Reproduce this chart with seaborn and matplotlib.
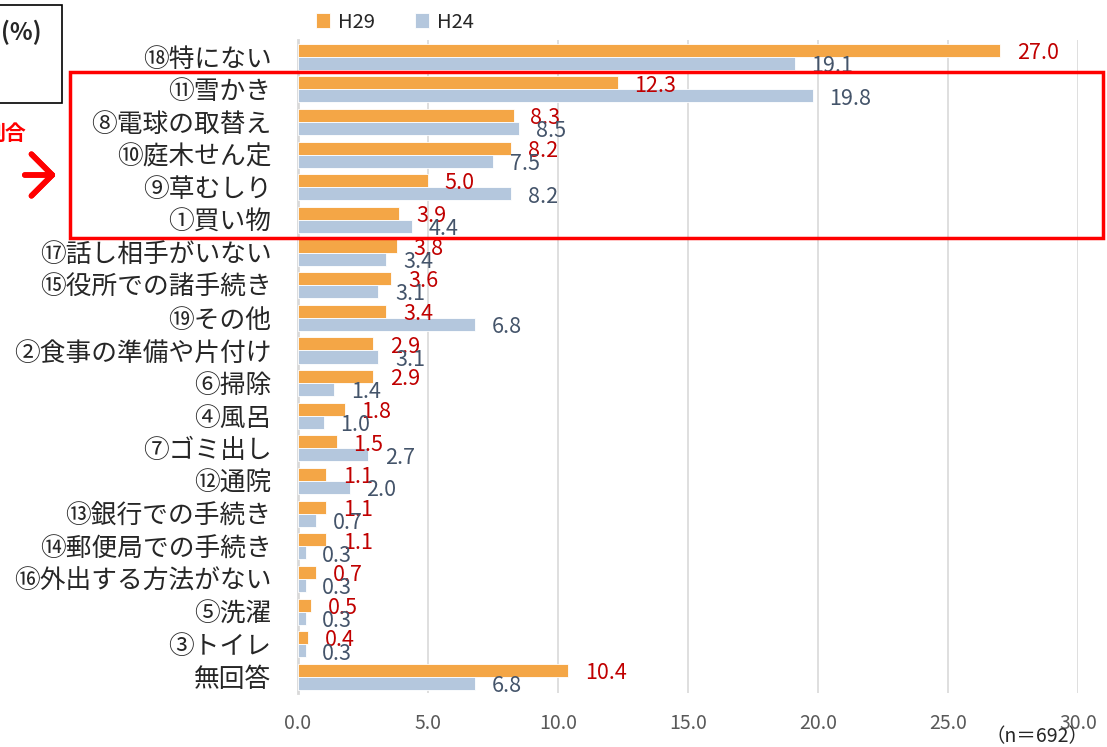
import pandas as pd
import matplotlib.pyplot as plt
import seaborn as sns
from matplotlib.patches import Rectangle

categories = ['⑱特にない', '⑪雪かき', '⑧電球の取替え', '⑩庭木せん定', '⑨草むしり', '①買い物',
              '⑰話し相手がいない', '⑮役所での諸手続き', '⑲その他', '②食事の準備や片付け', '⑥掃除',
              '④風呂', '⑦ゴミ出し', '⑫通院', '⑬銀行での手続き', '⑭郵便局での手続き',
              '⑯外出する方法がない', '⑤洗濯', '③トイレ', '無回答']
h29 = [27.0, 12.3, 8.3, 8.2, 5.0, 3.9, 3.8, 3.6, 3.4, 2.9, 2.9, 1.8, 1.5, 1.1, 1.1, 1.1, 0.7, 0.5, 0.4, 10.4]
h24 = [19.1, 19.8, 8.5, 7.5, 8.2, 4.4, 3.4, 3.1, 6.8, 3.1, 1.4, 1.0, 2.7, 2.0, 0.7, 0.3, 0.3, 0.3, 0.3, 6.8]
series = ['H29', 'H24']
x_ticks = [0, 5, 10, 15, 20, 25, 30]

df = pd.DataFrame({
    'item': categories * 2,
    'year': ['H29'] * len(categories) + ['H24'] * len(categories),
    'value': h29 + h24,
})

sns.set_style('white')
plt.rcParams['font.family'] = ['Noto Sans CJK JP', 'DejaVu Sans']

fig = plt.figure(figsize=(11.07, 7.47), dpi=100)
ax = fig.add_axes([0.269, 0.072, 0.705, 0.874])

sns.barplot(data=df, y='item', x='value', hue='year', hue_order=series,
            palette={'H29': '#F4A646', 'H24': '#B4C7DD'}, saturation=1, orient='h',
            width=0.8, edgecolor='white', linewidth=0.6, ax=ax, zorder=3)

label_colors = ['#C00000', '#44546A']
for cont, col in zip(ax.containers, label_colors):
    for t in ax.bar_label(cont, fmt='%.1f', padding=12, color=col, fontsize=15.5):
        t.set_position((12, -2))

ax.set_xlim(0, 30)
ax.set_xticks(x_ticks)
ax.set_xticklabels([f'{t:.1f}' for t in x_ticks], color='#595959', fontsize=14)
ax.tick_params(axis='x', length=0, pad=14)
ax.tick_params(axis='y', length=0, pad=19, labelsize=18.5)
ax.set_xlabel('')
ax.set_ylabel('')
ax.grid(axis='x', color='#D9D9D9', linewidth=1.2, zorder=0)
for s in ['top', 'right', 'bottom']:
    ax.spines[s].set_visible(False)
ax.spines['left'].set_color('#D9D9D9')
ax.spines['left'].set_linewidth(2)

ax.legend(loc='center', bbox_to_anchor=(395 / 1107, 1 - 22 / 747), bbox_transform=fig.transFigure,
          ncol=2, frameon=False, fontsize=14.5, handlelength=0.7, handleheight=0.7,
          handletextpad=0.4, columnspacing=2.0)

# callouts around the chart
fig.patches.append(Rectangle((-10 / 1107, 1 - 103 / 747), 72 / 1107, 98 / 747, transform=fig.transFigure,
                             fill=False, edgecolor='black', linewidth=1.2))
fig.text(21 / 1107, 1 - 32 / 747, '(%)', fontsize=17, fontweight='bold', ha='center', va='center')
fig.text(26 / 1107, 1 - 133 / 747, '割合', fontsize=15, fontweight='bold', color='#FF0000',
         ha='right', va='center')
fig.add_artist(plt.annotate('', xy=(59 / 1107, 1 - 175 / 747), xytext=(22 / 1107, 1 - 175 / 747),
                            xycoords='figure fraction', textcoords='figure fraction',
                            arrowprops=dict(arrowstyle='->, head_length=0.5, head_width=0.5',
                                            color='#FF0000', lw=4, mutation_scale=30)))
fig.patches.append(Rectangle((70 / 1107, 1 - 238 / 747), 1033 / 1107, 166 / 747, transform=fig.transFigure,
                             fill=False, edgecolor='#FF0000', linewidth=2.5, zorder=10))
fig.text(1037 / 1107, 1 - 737 / 747, '（n＝692）', fontsize=14, ha='center', va='center')

fig.savefig('out.png', dpi=100)
